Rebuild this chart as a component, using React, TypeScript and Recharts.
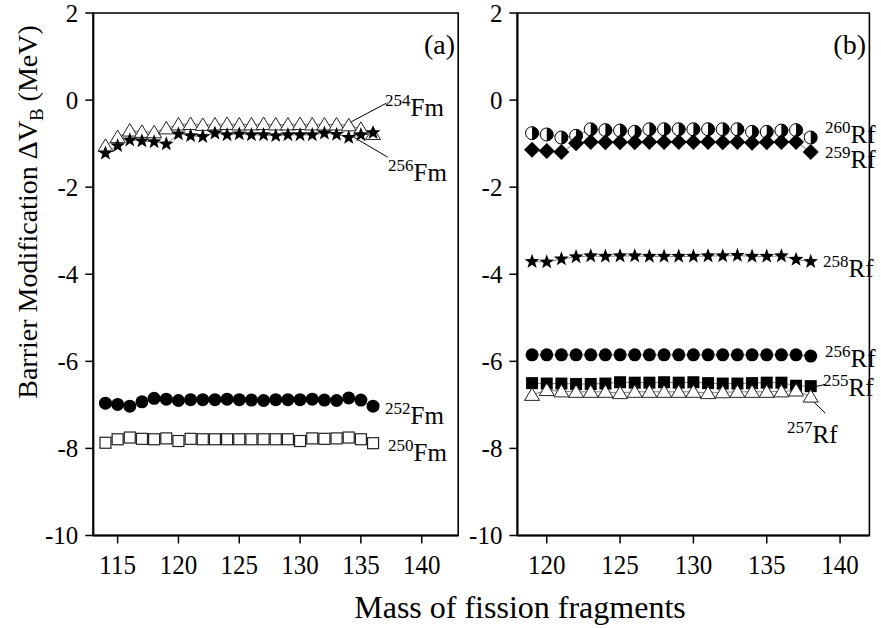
import React from 'react';
import { ScatterChart, Scatter, XAxis, YAxis, ReferenceArea, ReferenceLine } from 'recharts';

// fission fragment masses
const fmMasses = [114, 115, 116, 117, 118, 119, 120, 121, 122, 123, 124, 125, 126, 127, 128, 129, 130, 131, 132, 133, 134, 135, 136];
const rfMasses = [119, 120, 121, 122, 123, 124, 125, 126, 127, 128, 129, 130, 131, 132, 133, 134, 135, 136, 137, 138];

// panel (a): Fm isotopes
const fm254 = [-1.05, -0.85, -0.70, -0.73, -0.74, -0.65, -0.56, -0.55, -0.57, -0.56, -0.55, -0.56, -0.56, -0.55, -0.56, -0.56, -0.55, -0.56, -0.56, -0.56, -0.58, -0.66, -0.78];
const fm256 = [-1.22, -1.05, -0.92, -0.94, -0.96, -1.01, -0.78, -0.82, -0.84, -0.76, -0.80, -0.78, -0.80, -0.80, -0.82, -0.80, -0.80, -0.80, -0.76, -0.79, -0.86, -0.80, -0.75];
const fm252 = [-6.96, -6.99, -7.03, -6.93, -6.85, -6.87, -6.90, -6.88, -6.88, -6.88, -6.87, -6.88, -6.89, -6.90, -6.88, -6.88, -6.88, -6.87, -6.89, -6.90, -6.84, -6.89, -7.03];
const fm250 = [-7.87, -7.79, -7.75, -7.78, -7.79, -7.77, -7.83, -7.78, -7.79, -7.79, -7.79, -7.79, -7.79, -7.79, -7.79, -7.79, -7.83, -7.77, -7.78, -7.77, -7.75, -7.79, -7.88];

// panel (b): Rf isotopes
const rf260 = [-0.76, -0.79, -0.86, -0.82, -0.67, -0.69, -0.70, -0.73, -0.67, -0.67, -0.67, -0.67, -0.67, -0.67, -0.67, -0.73, -0.73, -0.70, -0.69, -0.86];
const rf259 = [-1.14, -1.17, -1.19, -0.99, -0.96, -0.97, -0.97, -0.97, -0.96, -0.96, -0.96, -0.96, -0.96, -0.97, -0.96, -0.98, -0.97, -0.96, -0.96, -1.19];
const rf258 = [-3.71, -3.72, -3.65, -3.60, -3.58, -3.59, -3.58, -3.58, -3.59, -3.59, -3.59, -3.59, -3.58, -3.58, -3.57, -3.59, -3.59, -3.58, -3.66, -3.71];
const rf256 = [-5.85, -5.85, -5.85, -5.85, -5.85, -5.85, -5.85, -5.85, -5.85, -5.85, -5.85, -5.85, -5.85, -5.85, -5.85, -5.85, -5.85, -5.85, -5.85, -5.88];
const rf255 = [-6.50, -6.51, -6.51, -6.52, -6.52, -6.51, -6.48, -6.49, -6.49, -6.48, -6.49, -6.48, -6.50, -6.51, -6.51, -6.50, -6.49, -6.49, -6.56, -6.57];
const rf257 = [-6.77, -6.66, -6.69, -6.70, -6.70, -6.70, -6.73, -6.70, -6.70, -6.70, -6.70, -6.70, -6.73, -6.71, -6.70, -6.70, -6.70, -6.69, -6.67, -6.81];

const yTicks = [2, 0, -2, -4, -6, -8, -10];
const fmTicks = [115, 120, 125, 130, 135, 140];
const rfTicks = [120, 125, 130, 135, 140];

const FONT = '"Liberation Serif", "Times New Roman", serif';

const toPoints = (xs: number[], ys: number[]) => xs.map((x, i) => ({ x, y: ys[i] }));

type Kind = 'circle' | 'openSquare' | 'square' | 'openTriangle' | 'star' | 'diamond' | 'half';

function Marker({ kind, cx, cy }: { kind: Kind; cx: number; cy: number }) {
  if (kind === 'circle') return <circle cx={cx} cy={cy} r={6.5} fill="#000" />;
  if (kind === 'openSquare')
    return <rect x={cx - 5.5} y={cy - 5.5} width={11} height={11} fill="#fff" stroke="#222" strokeWidth={1.2} />;
  if (kind === 'square') return <rect x={cx - 6} y={cy - 6} width={12} height={12} fill="#000" />;
  if (kind === 'openTriangle')
    return (
      <polygon
        points={`${cx},${cy - 7} ${cx + 7.5},${cy + 5.5} ${cx - 7.5},${cy + 5.5}`}
        fill="#fff"
        stroke="#222"
        strokeWidth={1}
      />
    );
  if (kind === 'diamond')
    return <polygon points={`${cx},${cy - 8} ${cx + 8},${cy} ${cx},${cy + 8} ${cx - 8},${cy}`} fill="#000" />;
  if (kind === 'half')
    return (
      <g>
        <circle cx={cx} cy={cy} r={6.5} fill="#fff" stroke="#000" strokeWidth={1} />
        <path d={`M${cx},${cy - 6.5} A6.5,6.5 0 0 1 ${cx},${cy + 6.5} Z`} fill="#000" />
      </g>
    );
  // star
  const pts: string[] = [];
  for (let i = 0; i < 10; i++) {
    const a = (-90 + i * 36) * (Math.PI / 180);
    const r = i % 2 === 0 ? 7.8 : 3.2;
    pts.push(`${cx + r * Math.cos(a)},${cy + r * Math.sin(a)}`);
  }
  return <polygon points={pts.join(' ')} fill="#000" />;
}

function XTick(props: any) {
  const { x, y, payload } = props;
  return (
    <g transform={`translate(${x},${y}) scale(1,1.12)`}>
      <text x={0} y={0} dy="0.72em" textAnchor="middle" fontFamily={FONT} fontSize={25} fill="#000">
        {payload.value}
      </text>
    </g>
  );
}

function YTick(props: any) {
  const { x, y, payload } = props;
  return (
    <text x={x} y={y} dy="0.34em" textAnchor="end" fontFamily={FONT} fontSize={25} fill="#000">
      {payload.value}
    </text>
  );
}

interface SeriesDef {
  name: string;
  kind: Kind;
  data: { x: number; y: number }[];
}

interface Leader {
  from: { x: number; y: number };
  to: { x: number; y: number };
}

interface PanelProps {
  width: number;
  margin: { top: number; right: number; bottom: number; left: number };
  yAxisWidth: number;
  domain: [number, number];
  ticks: number[];
  series: SeriesDef[];
  leaders: Leader[];
}

const TOP = 10; // the charts start a bit above the page so the "2" labels are not cut

function Panel({ width, margin, yAxisWidth, domain, ticks, series, leaders }: PanelProps) {
  return (
    <ScatterChart width={width} height={628 + TOP} margin={margin}>
      <XAxis
        type="number"
        dataKey="x"
        domain={domain}
        ticks={ticks}
        allowDataOverflow
        height={30}
        tick={<XTick />}
        tickSize={8}
        tickMargin={10}
        axisLine={{ stroke: '#000', strokeWidth: 2 }}
        tickLine={{ stroke: '#000', strokeWidth: 1.5 }}
      />
      <YAxis
        type="number"
        dataKey="y"
        domain={[-10, 2]}
        ticks={yTicks}
        allowDataOverflow
        width={yAxisWidth}
        tick={<YTick />}
        tickSize={8}
        tickMargin={7}
        axisLine={{ stroke: '#000', strokeWidth: 2 }}
        tickLine={{ stroke: '#000', strokeWidth: 1.5 }}
      />
      <ReferenceArea x1={domain[0]} x2={domain[1]} y1={-10} y2={2} fill="none" stroke="#000" strokeWidth={1.6} />
      {series.map((s) => (
        <Scatter
          key={s.name}
          name={s.name}
          data={s.data}
          isAnimationActive={false}
          line={{ stroke: '#808080', strokeWidth: 1 }}
          lineType="joint"
          shape={(p: any) => <Marker kind={s.kind} cx={p.cx} cy={p.cy} />}
        />
      ))}
      {leaders.map((l, i) => (
        <ReferenceLine key={i} segment={[l.from, l.to]} stroke="#000" strokeWidth={1} ifOverflow="visible" />
      ))}
    </ScatterChart>
  );
}

function Iso({ x, y, mass, sym }: { x: number; y: number; mass: string; sym: string }) {
  return (
    <text x={x} y={y} fontFamily={FONT} fill="#000">
      <tspan fontSize={17} dy={-10}>{mass}</tspan>
      <tspan fontSize={25} dy={10}>{sym}</tspan>
    </text>
  );
}

export default function App() {
  const fmSeries: SeriesDef[] = [
    { name: '250Fm', kind: 'openSquare', data: toPoints(fmMasses, fm250) },
    { name: '252Fm', kind: 'circle', data: toPoints(fmMasses, fm252) },
    { name: '254Fm', kind: 'openTriangle', data: toPoints(fmMasses, fm254) },
    { name: '256Fm', kind: 'star', data: toPoints(fmMasses, fm256) },
  ];
  const rfSeries: SeriesDef[] = [
    { name: '260Rf', kind: 'half', data: toPoints(rfMasses, rf260) },
    { name: '259Rf', kind: 'diamond', data: toPoints(rfMasses, rf259) },
    { name: '258Rf', kind: 'star', data: toPoints(rfMasses, rf258) },
    { name: '256Rf', kind: 'circle', data: toPoints(rfMasses, rf256) },
    { name: '255Rf', kind: 'square', data: toPoints(rfMasses, rf255) },
    { name: '257Rf', kind: 'openTriangle', data: toPoints(rfMasses, rf257) },
  ];
  const fmLeaders: Leader[] = [
    { from: { x: 134.2, y: -0.5 }, to: { x: 137.1, y: -0.07 } },
    { from: { x: 134.4, y: -0.85 }, to: { x: 137.2, y: -1.31 } },
  ];
  const rfLeaders: Leader[] = [
    { from: { x: 138.3, y: -6.58 }, to: { x: 139.0, y: -6.53 } },
    { from: { x: 138.2, y: -6.93 }, to: { x: 139.0, y: -7.19 } },
  ];

  return (
    <div style={{ position: 'absolute', left: 0, top: 0, width: 881, height: 628, background: '#fff', overflow: 'hidden' }}>
      <div style={{ position: 'absolute', left: 0, top: -TOP }}>
        <Panel
          width={462}
          margin={{ top: 13 + TOP, right: 3.8, bottom: 62.5, left: 33.3 }}
          yAxisWidth={60}
          domain={[113, 143]}
          ticks={fmTicks}
          series={fmSeries}
          leaders={fmLeaders}
        />
      </div>
      <div style={{ position: 'absolute', left: 455, top: -TOP }}>
        <Panel
          width={426}
          margin={{ top: 13 + TOP, right: 11.6, bottom: 62.5, left: 12.4 }}
          yAxisWidth={50}
          domain={[118, 142]}
          ticks={rfTicks}
          series={rfSeries}
          leaders={rfLeaders}
        />
      </div>
      <svg
        width={881}
        height={628}
        style={{ position: 'absolute', left: 0, top: 0, pointerEvents: 'none' }}
      >
        <text transform="translate(37,212) rotate(-90)" textAnchor="middle" fontFamily={FONT} fontSize={28} fill="#000">
          Barrier Modification ΔV<tspan fontSize={19} dy={6}>B</tspan>
          <tspan dy={-6}> (MeV)</tspan>
        </text>
        <text x={520} y={618} textAnchor="middle" fontFamily={FONT} fontSize={32} fill="#000">
          Mass of fission fragments
        </text>
        <text x={455} y={54} textAnchor="end" fontFamily={FONT} fontSize={28} fill="#000">(a)</text>
        <text x={866} y={54} textAnchor="end" fontFamily={FONT} fontSize={28} fill="#000">(b)</text>

        <Iso x={385} y={116} mass="254" sym="Fm" />
        <Iso x={388} y={181} mass="256" sym="Fm" />
        <Iso x={385} y={424} mass="252" sym="Fm" />
        <Iso x={388} y={461} mass="250" sym="Fm" />

        <Iso x={825} y={143} mass="260" sym="Rf" />
        <Iso x={825} y={168} mass="259" sym="Rf" />
        <Iso x={823} y={277} mass="258" sym="Rf" />
        <Iso x={825} y={367} mass="256" sym="Rf" />
        <Iso x={823} y={396} mass="255" sym="Rf" />
        <Iso x={787} y={443} mass="257" sym="Rf" />
      </svg>
    </div>
  );
}
